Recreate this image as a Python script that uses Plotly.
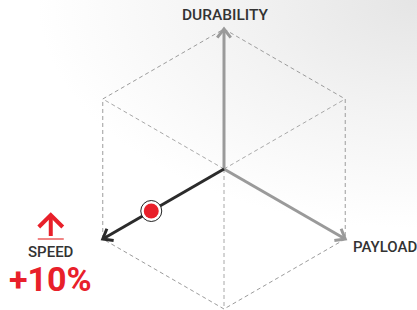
import base64
import math
import plotly.graph_objects as go

# ---- data ----
axis_names = ["DURABILITY", "PAYLOAD", "SPEED"]
axis_angles = [90, -30, 210]          # degrees, math convention
axis_colors = ["#9a9a9a", "#9a9a9a", "#2b2b2b"]
frame_angles = [90, 30, -30, -90, 210, 150]
inner_edge_angles = [150, 30, -90]
point_axis = "SPEED"
point_value = 0.6
change_label = "+10%"

# ---- layout constants (pixels) ----
W, H = 417, 310
CX, CY, R = 224, 169, 140
RED = "#e8202a"
DARK = "#333333"


def pt(angle, r=1.0):
    a = math.radians(angle)
    return CX + R * r * math.cos(a), CY - R * r * math.sin(a)


fig = go.Figure()

# hexagon frame
hx = [pt(a)[0] for a in frame_angles] + [pt(frame_angles[0])[0]]
hy = [pt(a)[1] for a in frame_angles] + [pt(frame_angles[0])[1]]
fig.add_trace(go.Scatter(x=hx, y=hy, mode="lines",
                         line=dict(color="#9c9c9c", width=1, dash="4px,3px"),
                         hoverinfo="skip"))
# inner cube edges
for a in inner_edge_angles:
    x1, y1 = pt(a)
    fig.add_trace(go.Scatter(x=[CX, x1], y=[CY, y1], mode="lines",
                             line=dict(color="#a8a8a8", width=1, dash="4px,3px"),
                             hoverinfo="skip"))

# axis arrows
HEAD = 11
SPREAD = 38
for name, a, col in zip(axis_names, axis_angles, axis_colors):
    tx, ty = pt(a)
    fig.add_trace(go.Scatter(x=[CX, tx], y=[CY, ty], mode="lines",
                             line=dict(color=col, width=3), hoverinfo="skip"))
    back = math.radians(a + 180)
    wx, wy = [], []
    for s in (-SPREAD, SPREAD):
        b = back + math.radians(s)
        wx.append(tx + HEAD * math.cos(b))
        wy.append(ty - HEAD * math.sin(b))
    fig.add_trace(go.Scatter(x=[wx[0], tx, wx[1]], y=[wy[0], ty, wy[1]],
                             mode="lines", line=dict(color=col, width=3),
                             hoverinfo="skip"))

# data point
pa = axis_angles[axis_names.index(point_axis)]
px_, py_ = pt(pa, point_value)
fig.add_trace(go.Scatter(x=[px_], y=[py_], mode="markers",
                         marker=dict(size=21, color="white",
                                     line=dict(color="#222222", width=1)),
                         hoverinfo="skip"))
fig.add_trace(go.Scatter(x=[px_], y=[py_], mode="markers",
                         marker=dict(size=15, color=RED, line=dict(width=0)),
                         hoverinfo="skip"))

# labels
FONT = "Roboto"
dx_, dy_ = pt(90)
fig.add_annotation(x=dx_ + 1, y=dy_ - 14, text="DURABILITY", showarrow=False,
                   font=dict(family=FONT, size=15.5, color=DARK, weight=500),
                   xanchor="center", yanchor="middle")
plx, ply = pt(-30)
fig.add_annotation(x=plx + 6, y=ply + 8, text="PAYLOAD", showarrow=False,
                   font=dict(family=FONT, size=15, color=DARK, weight=500),
                   xanchor="left", yanchor="middle")
slx, sly = pt(210)
SX = slx - 52
fig.add_annotation(x=SX, y=sly + 13, text=point_axis, showarrow=False,
                   font=dict(family=FONT, size=15, color=DARK, weight=500),
                   xanchor="center", yanchor="middle")
fig.add_annotation(x=SX, y=sly + 40, text=change_label, showarrow=False,
                   font=dict(family=FONT, size=34, color=RED, weight="bold"),
                   xanchor="center", yanchor="middle")

# up-arrow icon
shapes = [
    dict(type="path", path=f"M {SX-12},{sly-12} L {SX},{sly-24} L {SX+12},{sly-12}",
         line=dict(color=RED, width=4), xref="x", yref="y"),
    dict(type="line", x0=SX, x1=SX, y0=sly-23, y1=sly-3,
         line=dict(color=RED, width=4), xref="x", yref="y"),
    dict(type="line", x0=SX-13, x1=SX+13, y0=sly, y1=sly,
         line=dict(color="#f08585", width=2), xref="x", yref="y"),
]

svg = (f"<svg xmlns='http://www.w3.org/2000/svg' width='{W}' height='{H}'>"
       "<defs><radialGradient id='g' gradientUnits='userSpaceOnUse' "
       f"cx='{W}' cy='0' r='380' gradientTransform='translate({W} 0) scale(1 0.6) translate(-{W} 0)'>"
       "<stop offset='0' stop-color='#e5e5e5'/><stop offset='0.5' stop-color='#f3f3f3'/>"
       "<stop offset='1' stop-color='#ffffff'/></radialGradient></defs>"
       f"<rect width='{W}' height='{H}' fill='url(#g)'/></svg>")
src = "data:image/svg+xml;base64," + base64.b64encode(svg.encode()).decode()

fig.update_layout(
    width=W, height=H, margin=dict(l=0, r=0, t=0, b=0),
    paper_bgcolor="white", plot_bgcolor="rgba(0,0,0,0)",
    showlegend=False,
    xaxis=dict(range=[0, W], visible=False, fixedrange=True),
    yaxis=dict(range=[H, 0], visible=False, fixedrange=True),
    shapes=shapes,
    images=[dict(source=src, xref="paper", yref="paper", x=0, y=1,
                 sizex=1, sizey=1, sizing="stretch", layer="below",
                 xanchor="left", yanchor="top")],
)

fig.write_html("out.html", config={"displayModeBar": False},
               post_script="document.body.style.margin='0';document.body.style.overflow='hidden';")
